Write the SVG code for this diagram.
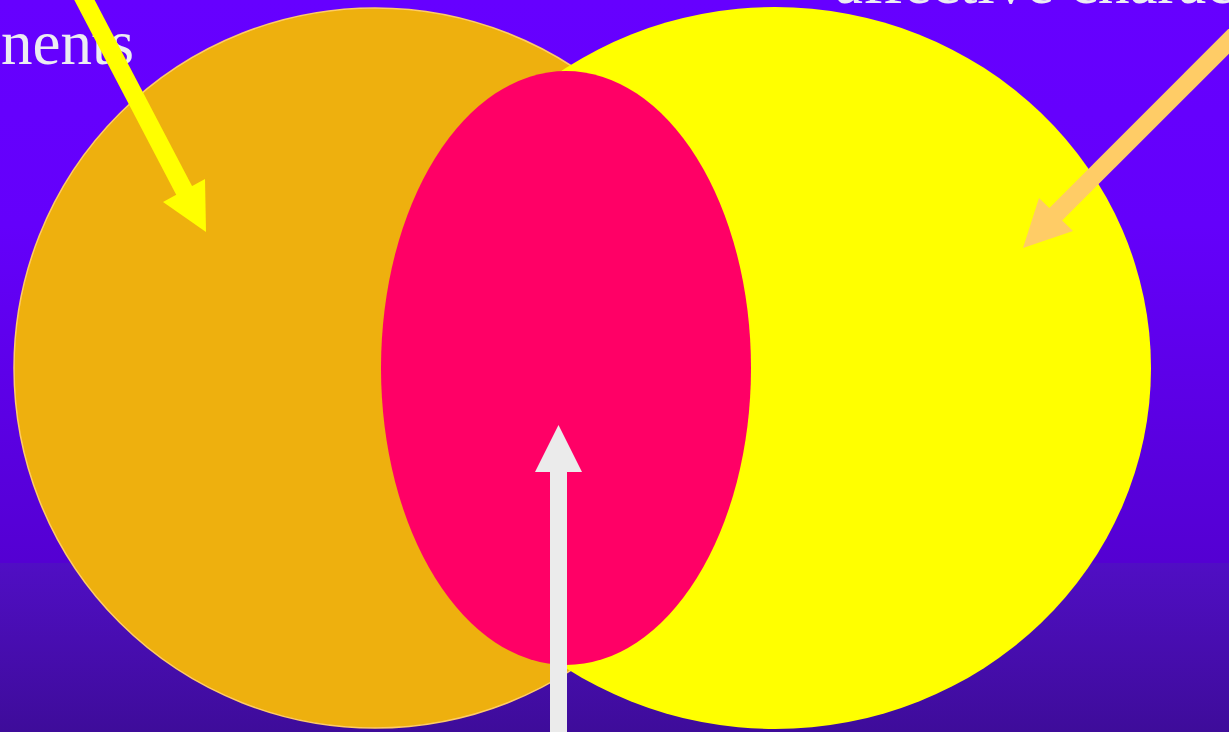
<svg xmlns="http://www.w3.org/2000/svg" width="1229" height="732" viewBox="0 0 1229 732">
  <defs>
    <linearGradient id="bgTop" x1="0" y1="0" x2="0" y2="1">
      <stop offset="0" stop-color="#6600FF"/>
      <stop offset="0.4" stop-color="#6400FB"/>
      <stop offset="1" stop-color="#5400D2"/>
    </linearGradient>
    <linearGradient id="bgBot" x1="0" y1="0" x2="0" y2="1">
      <stop offset="0" stop-color="#500EC4"/>
      <stop offset="1" stop-color="#3E0C9A"/>
    </linearGradient>
    <style>
      .lbl { font-family: "Liberation Serif", "Times New Roman", serif; font-size: 63px; fill: #ECECF2; }
      .shaft { fill: none; stroke-width: 18; stroke-linecap: butt; }
    </style>
  </defs>

  <g id="background">
    <rect x="0" y="0" width="1229" height="563" fill="url(#bgTop)"/>
    <rect x="0" y="563" width="1229" height="169" fill="url(#bgBot)"/>
  </g>

  <g id="node-left">
    <ellipse cx="375" cy="368" rx="361" ry="360" fill="#EEB00E" stroke="#FFCC66" stroke-width="1.5"/>
  </g>
  <g id="node-right">
    <ellipse cx="775" cy="368" rx="376" ry="361" fill="#FFFF00"/>
  </g>
  <g id="node-center">
    <ellipse cx="566" cy="368" rx="185" ry="297" fill="#FF0066"/>
  </g>

  <g id="labels">
    <text class="lbl" x="1" y="64">nents</text>
    <text class="lbl" x="835" y="3">affective charac</text>
  </g>

  <g id="connectors">
    <g id="arrow-left">
      <line class="shaft" x1="74" y1="-20" x2="186" y2="194" stroke="#FFFF00"/>
      <polygon points="206,232 163,202 205,179" fill="#FFFF00"/>
    </g>
    <g id="arrow-right">
      <line class="shaft" x1="1250" y1="20" x2="1052" y2="218" stroke="#FFCC66"/>
      <polygon points="1023,248 1039,198 1073,231" fill="#FFCC66"/>
    </g>
    <g id="arrow-bottom">
      <rect x="550" y="468" width="17" height="270" fill="#EBEBEB"/>
      <polygon points="558.5,425 535,472 582,472" fill="#EBEBEB"/>
    </g>
  </g>
</svg>
